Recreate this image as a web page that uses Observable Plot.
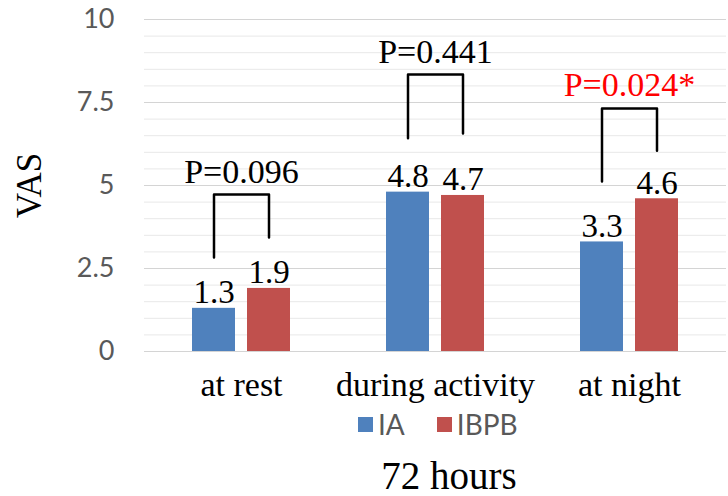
<!DOCTYPE html>
<html><head><meta charset="utf-8">
<script src="https://cdn.jsdelivr.net/npm/d3@7"></script>
<script src="https://cdn.jsdelivr.net/npm/@observablehq/plot@0.6"></script>
<style>
body{margin:0;background:#fff;}
#wrap{position:relative;width:728px;height:496px;overflow:hidden;background:#fff;}
#chart{position:absolute;left:0;top:0;}
#legend{position:absolute;left:358px;top:407px;}
#title{position:absolute;left:170px;width:558px;top:456px;text-align:center;font-family:"Liberation Serif",serif;font-size:39px;line-height:1;color:#000;}
.lg-swatches{font-family:Lato,sans-serif !important;font-size:28px !important;color:#595959 !important;}
.lg-swatch{margin-right:32px !important;}
.lg-swatch > svg{margin-right:5px !important;}
</style></head><body>
<div id="wrap"><div id="chart"></div><div id="legend"></div><div id="title">72 hours</div></div>
<script>
const categories = ["at rest", "during activity", "at night"];
const groups = ["IA", "IBPB"];
const iaValues = [1.3, 4.8, 3.3];
const ibpbValues = [1.9, 4.7, 4.6];
const pValues = [0.096, 0.441, 0.024];
const pLabelY = [5.09, 8.70, 7.71];
const bracketTop = [4.73, 8.34, 7.32];
const bracketLeftEnd = [2.83, 6.42, 5.12];
const bracketRightEnd = [3.43, 6.57, 6.05];
const yTicks = [0, 2.5, 5, 7.5, 10];
const minorGrid = [0.5, 1, 1.5, 2, 3, 3.5, 4, 4.5, 5.5, 6, 6.5, 7, 8, 8.5, 9, 9.5];
const colors = ["#4f81bd", "#c0504d"];

const rows = [];
categories.forEach((c, i) => {
  rows.push({category: c, group: "IA", value: iaValues[i]});
  rows.push({category: c, group: "IBPB", value: ibpbValues[i]});
});
const brackets = [];
categories.forEach((c, i) => {
  brackets.push({category: c, group: "IA", y: bracketLeftEnd[i]});
  brackets.push({category: c, group: "IA", y: bracketTop[i]});
  brackets.push({category: c, group: "IBPB", y: bracketTop[i]});
  brackets.push({category: c, group: "IBPB", y: bracketRightEnd[i]});
});
const pRows = categories.map((c, i) => ({
  category: c,
  y: pLabelY[i],
  sig: pValues[i] < 0.05,
  label: "P=" + pValues[i].toFixed(3) + (pValues[i] < 0.05 ? "*" : "")
}));

const serif = "Liberation Serif, Times New Roman, serif";

const chart = Plot.plot({
  width: 728, height: 406,
  marginLeft: 143, marginRight: 2, marginTop: 19, marginBottom: 55,
  fx: {domain: categories, padding: 0, label: null},
  x: {domain: groups, paddingInner: 0.22, paddingOuter: 0.87, axis: null},
  y: {domain: [0, 10]},
  color: {domain: groups, range: colors},
  marks: [
    Plot.ruleY(minorGrid, {stroke: "#e8e8e8", strokeWidth: 1}),
    Plot.ruleY(yTicks, {stroke: "#d4d4d4", strokeWidth: 1.2}),
    Plot.barY(rows, {fx: "category", x: "group", y: "value", fill: "group"}),
    Plot.text(rows, {fx: "category", x: "group", y: "value", text: d => d.value.toFixed(1),
      lineAnchor: "bottom", dy: -5, fontSize: 33, fontFamily: serif, fill: "#000"}),
    Plot.line(brackets, {fx: "category", x: "group", y: "y", z: "category", stroke: "#000", strokeWidth: 2.5}),
    Plot.text(pRows.filter(d => !d.sig), {fx: "category", y: "y", text: "label",
      lineAnchor: "bottom", fontSize: 34, fontFamily: serif, fill: "#000"}),
    Plot.text(pRows.filter(d => d.sig), {fx: "category", y: "y", text: "label",
      lineAnchor: "bottom", fontSize: 34, fontFamily: serif, fill: "#ff0000"}),
    Plot.axisY({ticks: yTicks, tickSize: 0, tickPadding: 30, tickFormat: d => String(d),
      fontSize: 27, fontFamily: "Lato, sans-serif", color: "#595959", label: null}),
    Plot.axisY({ticks: [], label: "VAS", labelArrow: "none", labelAnchor: "center", labelOffset: 128,
      fontSize: 35, fontFamily: serif, color: "#000"}),
    Plot.axisFx({anchor: "bottom", tickSize: 0, tickPadding: 20, fontSize: 34, fontFamily: serif, label: null})
  ]
});
document.getElementById("chart").appendChild(chart);

const legend = Plot.legend({
  color: {domain: groups, range: colors},
  legend: "swatches",
  swatchSize: 15,
  className: "lg"
});
document.getElementById("legend").appendChild(legend);
</script>
</body></html>
